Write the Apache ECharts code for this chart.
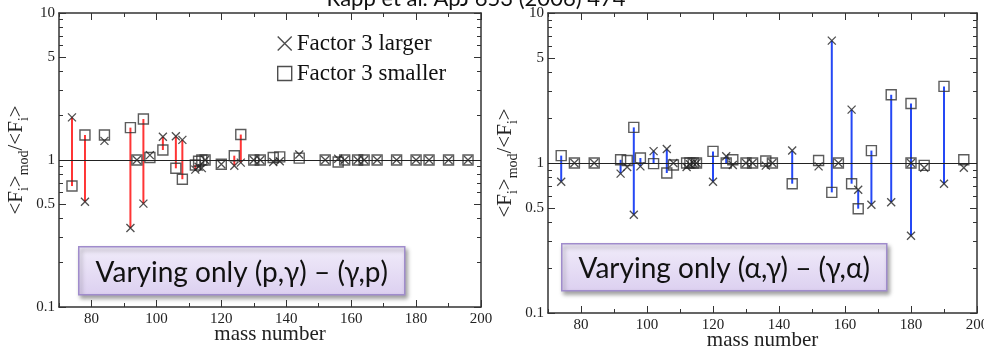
<!DOCTYPE html>
<html>
<head>
<meta charset="utf-8">
<script src="https://cdn.jsdelivr.net/npm/echarts@6/dist/echarts.min.js"></script>
<style>
html,body{margin:0;padding:0;background:#fff;}
#chart{width:984px;height:347px;}
</style>
</head>
<body>
<div id="chart"></div>
<script>
// ---------- data ----------
// Left panel: varying only (p,γ) – (γ,p)
const massL    = [74, 78, 84, 92, 94, 96, 98, 102, 106, 108, 112, 113, 114, 115, 120, 124, 126, 130, 132, 136, 138, 144, 152, 156, 158, 162, 164, 168, 174, 180, 184, 190, 196];
const largerL  = [1.95, 0.52, 1.35, 0.345, 1.0, 0.505, 1.08, 1.44, 1.45, 1.37, 0.86, 0.90, 0.88, 1.0, 0.935, 0.915, 0.96, 1.0, 1.0, 0.97, 0.98, 1.09, 1.0, 1.02, 1.0, 1.0, 1.0, 1.0, 1.0, 1.0, 1.0, 1.0, 1.0];
const smallerL = [0.665, 1.48, 1.48, 1.66, 1.0, 1.90, 1.04, 1.17, 0.878, 0.74, 0.925, 0.98, 1.0, 1.0, 0.935, 1.07, 1.49, 1.0, 1.0, 1.04, 1.05, 1.03, 1.0, 0.97, 1.0, 1.0, 1.0, 1.0, 1.0, 1.0, 1.0, 1.0, 1.0];
const linkedL  = [74, 78, 92, 96, 102, 106, 108, 112, 124, 126];

// Right panel: varying only (α,γ) – (γ,α)
const massR    = [74, 78, 84, 92, 94, 96, 98, 102, 106, 108, 112, 113, 114, 115, 120, 124, 126, 130, 132, 136, 138, 144, 152, 156, 158, 162, 164, 168, 174, 180, 180, 184, 190, 196];
const largerR  = [0.75, 1.0, 1.0, 0.85, 0.94, 0.452, 0.95, 1.2, 1.24, 1.0, 0.94, 0.98, 1.0, 1.0, 0.75, 1.11, 0.97, 1.0, 1.0, 0.96, 1.0, 1.21, 0.95, 6.54, 1.0, 2.27, 0.664, 0.527, 0.547, 0.327, 1.0, 0.93, 0.728, 0.93];
const smallerR = [1.12, 1.0, 1.0, 1.05, 1.04, 1.727, 1.08, 0.99, 0.858, 0.97, 1.0, 1.0, 1.0, 1.0, 1.195, 1.0, 1.05, 1.0, 1.0, 1.03, 1.0, 0.728, 1.04, 0.637, 1.0, 0.728, 0.496, 1.21, 2.85, 2.49, 1.0, 0.964, 3.24, 1.05];
const linkedR  = [74, 92, 96, 98, 102, 106, 120, 124, 144, 156, 162, 164, 168, 174, 180, 190];

const xMajorTicks = [80, 100, 120, 140, 160, 180, 200];
const xMinorTicks = [70, 90, 110, 130, 150, 170, 190];
const yMajorTicks = [0.1, 0.5, 1, 5, 10];
const yMinorTicks = [0.2, 0.3, 0.4, 0.6, 0.7, 0.8, 0.9, 2, 3, 4, 6, 7, 8, 9];

const titleText = 'Rapp et al. ApJ 653 (2006) 474';
const boxTextL = 'Varying only (p,γ) – (γ,p)';
const boxTextR = 'Varying only (α,γ) – (γ,α)';
const nameLarger = 'Factor 3 larger';
const nameSmaller = 'Factor 3 smaller';

// ---------- chart ----------
const SERIF = '"Liberation Serif","DejaVu Serif",serif';
const FRAME = '#333';
const crossPath = 'path://M0,0L10,10M10,0L0,10';

function pairs(mass, vals) { return mass.map((m, i) => [m, vals[i]]); }
function links(mass, larger, smaller, linked) {
  const out = [];
  mass.forEach((m, i) => {
    if (linked.indexOf(m) >= 0 && Math.abs(larger[i] - smaller[i]) > 0.02) out.push([m, larger[i], smaller[i]]);
  });
  return out;
}

function xAxes(gridIndex) {
  const base = {
    gridIndex, type: 'value', min: 70, max: 200,
    splitLine: { show: false }
  };
  return [
    Object.assign({}, base, {
      position: 'bottom',
      axisLine: { show: true, onZero: false, lineStyle: { color: FRAME, width: 1.5 } },
      axisTick: { show: true, inside: true, length: 7, customValues: xMajorTicks, lineStyle: { color: FRAME, width: 1 } },
      axisLabel: { show: true, customValues: xMajorTicks, fontFamily: SERIF, fontSize: 15, color: '#222', margin: 5 },
      name: 'mass number', nameLocation: 'middle', nameGap: 17, nameMoveOverlap: false,
      nameTextStyle: { fontFamily: SERIF, fontSize: 21, color: '#222', verticalAlign: 'top' }
    }),
    Object.assign({}, base, {
      position: 'bottom',
      axisLine: { show: false, onZero: false },
      axisTick: { show: true, inside: true, length: 4, customValues: xMinorTicks, lineStyle: { color: FRAME, width: 1 } },
      axisLabel: { show: false }
    }),
    Object.assign({}, base, {
      position: 'top',
      axisLine: { show: true, onZero: false, lineStyle: { color: FRAME, width: 1.5 } },
      axisTick: { show: true, inside: true, length: 7, customValues: xMajorTicks, lineStyle: { color: FRAME, width: 1 } },
      axisLabel: { show: false }
    }),
    Object.assign({}, base, {
      position: 'top',
      axisLine: { show: false, onZero: false },
      axisTick: { show: true, inside: true, length: 4, customValues: xMinorTicks, lineStyle: { color: FRAME, width: 1 } },
      axisLabel: { show: false }
    })
  ];
}

function yAxes(gridIndex) {
  const base = {
    gridIndex, type: 'log', logBase: 10, min: 0.1, max: 10,
    splitLine: { show: false }, minorTick: { show: false }, minorSplitLine: { show: false }
  };
  return [
    Object.assign({}, base, {
      position: 'left',
      axisLine: { show: true, onZero: false, lineStyle: { color: FRAME, width: 1.5 } },
      axisTick: { show: true, inside: true, length: 7, customValues: yMajorTicks, lineStyle: { color: FRAME, width: 1 } },
      axisLabel: { show: true, customValues: yMajorTicks, fontFamily: SERIF, fontSize: 15, color: '#222', margin: 4,
        formatter: v => String(v) },
      name: '{a|<F}{s|i}{a|>}{s|mod}{a|/<F}{s|i}{a|>}',
      nameLocation: 'middle', nameRotate: 90, nameGap: 28,
      nameTextStyle: {
        rich: {
          a: { fontFamily: SERIF, fontSize: 21, color: '#222', lineHeight: 25, verticalAlign: 'top' },
          s: { fontFamily: SERIF, fontSize: 14, color: '#222', lineHeight: 25, verticalAlign: 'bottom' }
        }
      }
    }),
    Object.assign({}, base, {
      position: 'left',
      axisLine: { show: false, onZero: false },
      axisTick: { show: true, inside: true, length: 4, customValues: yMinorTicks, lineStyle: { color: FRAME, width: 1 } },
      axisLabel: { show: false }
    }),
    Object.assign({}, base, {
      position: 'right',
      axisLine: { show: true, onZero: false, lineStyle: { color: FRAME, width: 1.5 } },
      axisTick: { show: true, inside: true, length: 7, customValues: yMajorTicks, lineStyle: { color: FRAME, width: 1 } },
      axisLabel: { show: false }
    }),
    Object.assign({}, base, {
      position: 'right',
      axisLine: { show: false, onZero: false },
      axisTick: { show: true, inside: true, length: 4, customValues: yMinorTicks, lineStyle: { color: FRAME, width: 1 } },
      axisLabel: { show: false }
    })
  ];
}

function panelSeries(k, mass, larger, smaller, linked, color) {
  const xi = k * 4, yi = k * 4;
  return [
    {
      type: 'custom', xAxisIndex: xi, yAxisIndex: yi, z: 2, silent: true,
      encode: { x: 0, y: [1, 2] },
      data: links(mass, larger, smaller, linked),
      renderItem: function (params, api) {
        const p1 = api.coord([api.value(0), api.value(1)]);
        const p2 = api.coord([api.value(0), api.value(2)]);
        return { type: 'line', shape: { x1: p1[0], y1: p1[1], x2: p2[0], y2: p2[1] },
          style: { stroke: color, lineWidth: 2 } };
      },
      markLine: {
        silent: true, symbol: 'none', label: { show: false },
        lineStyle: { color: '#222', width: 1, type: 'solid' },
        data: [{ yAxis: 1 }]
      }
    },
    {
      name: nameSmaller, type: 'scatter', xAxisIndex: xi, yAxisIndex: yi, z: 3,
      symbol: 'rect', symbolSize: 10,
      itemStyle: { color: 'rgba(255,255,255,0)', borderColor: '#333', borderWidth: 1.4 },
      data: pairs(mass, smaller)
    },
    {
      name: nameLarger, type: 'scatter', xAxisIndex: xi, yAxisIndex: yi, z: 4,
      symbol: crossPath, symbolSize: 8,
      itemStyle: { color: 'rgba(0,0,0,0)', borderColor: '#222', borderWidth: 1.3 },
      data: pairs(mass, larger)
    }
  ];
}

function box(x, y, w, h, text) {
  return {
    type: 'group', left: x, top: y, z: 100,
    children: [
      { type: 'rect', shape: { x: 0, y: 0, width: w, height: h },
        style: {
          fill: new echarts.graphic.LinearGradient(0, 0, 0, 1, [
            { offset: 0, color: '#f1ecfa' }, { offset: 1, color: '#dcd0f0' }
          ]),
          stroke: '#a08ccc', lineWidth: 1.5,
          shadowBlur: 4, shadowOffsetX: 2, shadowOffsetY: 3, shadowColor: 'rgba(0,0,0,0.35)'
        } },
      { type: 'text', x: w / 2, y: h / 2 + 2,
        style: { text: text, fill: '#111', font: '28px Lato, "Open Sans", sans-serif',
          align: 'center', verticalAlign: 'middle' } }
    ]
  };
}

const chart = echarts.init(document.getElementById('chart'), null, { renderer: 'canvas' });
chart.setOption({
  animation: false,
  backgroundColor: '#fff',
  grid: [
    { left: 59, top: 13, width: 422, height: 294, outerBoundsMode: 'none', containLabel: false },
    { left: 548, top: 13, width: 429, height: 300, outerBoundsMode: 'none', containLabel: false }
  ],
  xAxis: xAxes(0).concat(xAxes(1)),
  yAxis: yAxes(0).concat(yAxes(1)),
  legend: {
    left: 272, top: 27, orient: 'vertical', itemGap: 7, itemWidth: 14, itemHeight: 14,
    textStyle: { fontFamily: SERIF, fontSize: 23, color: '#111' },
    data: [
      { name: nameLarger, icon: crossPath, itemStyle: { color: 'rgba(0,0,0,0)', borderColor: '#222', borderWidth: 1.4 } },
      { name: nameSmaller, icon: 'rect', itemStyle: { color: 'rgba(0,0,0,0)', borderColor: '#222', borderWidth: 1.4 } }
    ]
  },
  graphic: [
    { type: 'text', x: 476, y: -12, z: 100,
      style: { text: titleText, fill: '#111', font: '22px Lato, "Open Sans", sans-serif', align: 'center' } },
    box(78, 246, 326, 48, boxTextL),
    box(561, 243, 325, 47, boxTextR)
  ],
  series: panelSeries(0, massL, largerL, smallerL, linkedL, '#ff3535')
    .concat(panelSeries(1, massR, largerR, smallerR, linkedR, '#2548f5'))
});
</script>
</body>
</html>
